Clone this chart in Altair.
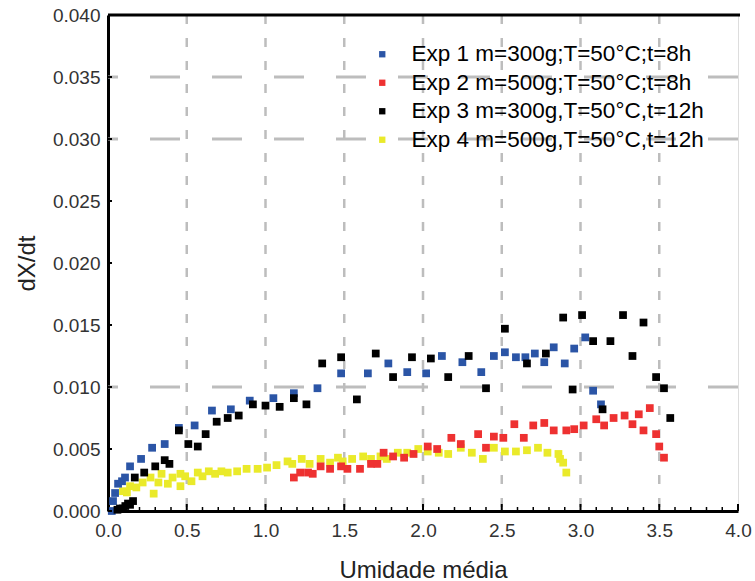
import altair as alt
import pandas as pd

# ---------------- data ----------------
series_names = [
    "Exp 1 m=300g;T=50°C;t=8h",
    "Exp 2 m=500g;T=50°C;t=8h",
    "Exp 3 m=300g,T=50°C,t=12h",
    "Exp 4 m=500g,T=50°C,t=12h",
]
series_colors = ["#2b55a6", "#ee3131", "#000000", "#eaea2a"]

exp1_x = [0.024, 0.032, 0.045, 0.064, 0.089, 0.108, 0.14, 0.21, 0.28, 0.36, 0.45, 0.55, 0.66, 0.78,
          0.90, 1.05, 1.18, 1.33, 1.48, 1.65, 1.78, 1.90, 2.02, 2.12, 2.25, 2.37, 2.45, 2.52, 2.59,
          2.65, 2.71, 2.77, 2.83, 2.90, 2.96, 3.03, 3.08, 3.13]
exp1_y = [0.0000, 0.0008, 0.00145, 0.0022, 0.0024, 0.0027, 0.0036, 0.0042, 0.0051, 0.0054, 0.0067,
          0.0069, 0.0081, 0.0082, 0.0089, 0.0091, 0.0095, 0.0099, 0.0111, 0.0111, 0.0119, 0.0112,
          0.0111, 0.0125, 0.0120, 0.0112, 0.0125, 0.0128, 0.0124, 0.0124, 0.0127, 0.0120, 0.0132,
          0.0119, 0.0131, 0.0140, 0.0097, 0.0086]

exp2_x = [1.18, 1.22, 1.27, 1.30, 1.35, 1.41, 1.48, 1.52, 1.60, 1.67, 1.71, 1.75, 1.81, 1.88, 1.94,
          2.03, 2.09, 2.18, 2.24, 2.35, 2.40, 2.45, 2.51, 2.58, 2.64, 2.70, 2.77, 2.83, 2.91, 2.96,
          3.02, 3.10, 3.15, 3.21, 3.28, 3.33, 3.37, 3.40, 3.44, 3.48, 3.50, 3.53]
exp2_y = [0.0027, 0.0031, 0.0031, 0.0030, 0.0036, 0.0034, 0.0036, 0.0034, 0.0034, 0.0038, 0.0038,
          0.0047, 0.0044, 0.0043, 0.0046, 0.0052, 0.0050, 0.0059, 0.0054, 0.0062, 0.0051, 0.0060,
          0.0059, 0.0070, 0.0059, 0.0069, 0.0071, 0.0065, 0.0065, 0.0066, 0.0069, 0.0074, 0.0069,
          0.0075, 0.0077, 0.0070, 0.0078, 0.0065, 0.0083, 0.0062, 0.0052, 0.0043]

exp3_x = [0.06, 0.076, 0.095, 0.11, 0.127, 0.14, 0.159, 0.17, 0.23, 0.30, 0.36, 0.39, 0.45, 0.51,
          0.57, 0.62, 0.69, 0.76, 0.83, 0.92, 1.00, 1.09, 1.18, 1.26, 1.36, 1.48, 1.58, 1.70, 1.81,
          1.93, 2.05, 2.16, 2.29, 2.40, 2.52, 2.66, 2.78, 2.89, 2.95, 3.01, 3.08, 3.14, 3.19, 3.27,
          3.33, 3.40, 3.48, 3.53, 3.57]
exp3_y = [0.0001, 0.0002, 0.0002, 0.0004, 0.0006, 0.0005, 0.0008, 0.0027, 0.0031, 0.0036, 0.0041,
          0.0038, 0.0065, 0.0054, 0.0052, 0.0062, 0.0072, 0.0075, 0.0077, 0.0086, 0.0085, 0.0084,
          0.0091, 0.0086, 0.0119, 0.0124, 0.0090, 0.0127, 0.0108, 0.0124, 0.0123, 0.0108, 0.0125,
          0.0099, 0.0147, 0.0119, 0.0127, 0.0156, 0.0098, 0.0158, 0.0137, 0.0082, 0.0137, 0.0158,
          0.0125, 0.0152, 0.0108, 0.0099, 0.0075]

exp4_x = [0.095, 0.12, 0.14, 0.18, 0.22, 0.27, 0.29, 0.32, 0.34, 0.38, 0.41, 0.46, 0.46, 0.49, 0.53,
          0.57, 0.60, 0.64, 0.68, 0.72, 0.76, 0.82, 0.88, 0.95, 1.01, 1.07, 1.14, 1.17, 1.23, 1.28,
          1.35, 1.41, 1.46, 1.49, 1.55, 1.62, 1.67, 1.73, 1.77, 1.84, 1.90, 1.97, 2.03, 2.10, 2.16,
          2.24, 2.31, 2.38, 2.45, 2.52, 2.59, 2.66, 2.73, 2.79, 2.86, 2.87, 2.89, 2.91]
exp4_y = [0.0016, 0.0015, 0.0020, 0.0019, 0.0023, 0.0027, 0.0014, 0.0023, 0.0030, 0.0022, 0.0027,
          0.0020, 0.0030, 0.0028, 0.0024, 0.0031, 0.0028, 0.0032, 0.0030, 0.0032, 0.0031, 0.0032,
          0.0034, 0.0034, 0.0035, 0.0037, 0.0040, 0.0038, 0.0042, 0.0038, 0.0042, 0.0039, 0.0043,
          0.0040, 0.0042, 0.0044, 0.0042, 0.0044, 0.0042, 0.0047, 0.0047, 0.0050, 0.0048, 0.0047,
          0.0046, 0.0051, 0.0047, 0.0042, 0.0051, 0.0048, 0.0048, 0.0049, 0.0051, 0.0047, 0.0046,
          0.0042, 0.0039, 0.0031]

x_ticks = [0.0, 0.5, 1.0, 1.5, 2.0, 2.5, 3.0, 3.5, 4.0]
y_ticks = [0.000, 0.005, 0.010, 0.015, 0.020, 0.025, 0.030, 0.035, 0.040]
x_minor = [round(i * 0.1, 1) for i in range(1, 40) if i % 5 != 0]
v_grid = [0.5, 1.0, 1.5, 2.0, 2.5, 3.0, 3.5]
h_grid = [0.035, 0.030, 0.010]

# ---------------- build table ----------------
frames = []
for name, xs, ys in [
    (series_names[3], exp4_x, exp4_y),
    (series_names[1], exp2_x, exp2_y),
    (series_names[0], exp1_x, exp1_y),
    (series_names[2], exp3_x, exp3_y),
]:
    frames.append(pd.DataFrame({"x": xs, "y": ys, "serie": name}))
df = pd.concat(frames, ignore_index=True)
df["ordem"] = range(len(df))

W, H = 630, 496
FONT = "Liberation Sans"

xscale = alt.Scale(domain=[0, 4], nice=False, zero=False)
yscale = alt.Scale(domain=[0, 0.040], nice=False, zero=False)

x_axis = alt.Axis(values=x_ticks, format=".1f", grid=False, ticks=False,
                  domainColor="black", domainWidth=3, labelFlush=False,
                  labelOverlap=False, labelBound=False,
                  labelFont=FONT, labelFontSize=19, labelColor="#333",
                  labelPadding=10, titleFont=FONT, titleFontSize=24,
                  titleFontWeight="normal", titleColor="#222", titlePadding=18)
y_axis = alt.Axis(values=y_ticks, format=".3f", grid=False, ticks=False,
                  domainColor="black", domainWidth=3, labelFlush=False,
                  labelOverlap=False, labelBound=False,
                  labelFont=FONT, labelFontSize=19, labelColor="#333",
                  labelPadding=8, titleFont=FONT, titleFontSize=24,
                  titleFontWeight="normal", titleColor="#222", titlePadding=13)


def xenc(field="x"):
    return alt.X(f"{field}:Q", scale=xscale, title="Umidade média", axis=x_axis)


def yenc(field="y"):
    return alt.Y(f"{field}:Q", scale=yscale, title="dX/dt", axis=y_axis)


vgrid = alt.Chart(pd.DataFrame({"x": v_grid})).mark_rule(
    color="#bdbdbd", strokeWidth=2.5, strokeDash=[9, 14]
).encode(x=xenc())

hgrid = alt.Chart(pd.DataFrame({"y": h_grid})).mark_rule(
    color="#bdbdbd", strokeWidth=3, strokeDash=[30, 32]
).encode(y=yenc())

top_border = alt.Chart(pd.DataFrame({"y": [0.040]})).mark_rule(
    color="black", strokeWidth=3
).encode(y=yenc(), x=alt.value(0), x2=alt.value(W + 2))

minor_ticks = alt.Chart(pd.DataFrame({"x": x_minor})).mark_rule(
    color="black", strokeWidth=1.5
).encode(x=xenc(), y=alt.value(H), y2=alt.value(H - 4))

major_ticks = alt.Chart(pd.DataFrame({"x": x_ticks})).mark_rule(
    color="black", strokeWidth=2
).encode(x=xenc(), y=alt.value(H), y2=alt.value(H - 7))

y_major_ticks = alt.Chart(pd.DataFrame({"y": y_ticks})).mark_rule(
    color="black", strokeWidth=2
).encode(y=yenc(), x=alt.value(0), x2=alt.value(4))

points = alt.Chart(df).mark_square(size=60, opacity=1).encode(
    x=xenc(),
    y=yenc(),
    color=alt.Color("serie:N",
                    scale=alt.Scale(domain=series_names, range=series_colors),
                    legend=alt.Legend(title=None, orient="none", legendX=263, legendY=28,
                                      symbolType="square", symbolSize=40, symbolStrokeWidth=0,
                                      labelFont=FONT, labelFontSize=22.5, labelColor="black",
                                      labelOffset=18, rowPadding=5.5, labelLimit=500)),
    order=alt.Order("ordem:Q"),
)

chart = alt.layer(vgrid, hgrid, points, top_border, minor_ticks, major_ticks, y_major_ticks).properties(
    width=W, height=H,
    autosize=alt.AutoSizeParams(type="none"),
    padding={"left": 108, "top": 15, "right": 17, "bottom": 70},
).configure_view(stroke=None).configure(background="white")

chart.save("out.html", embed_options={"renderer": "svg", "actions": False})
